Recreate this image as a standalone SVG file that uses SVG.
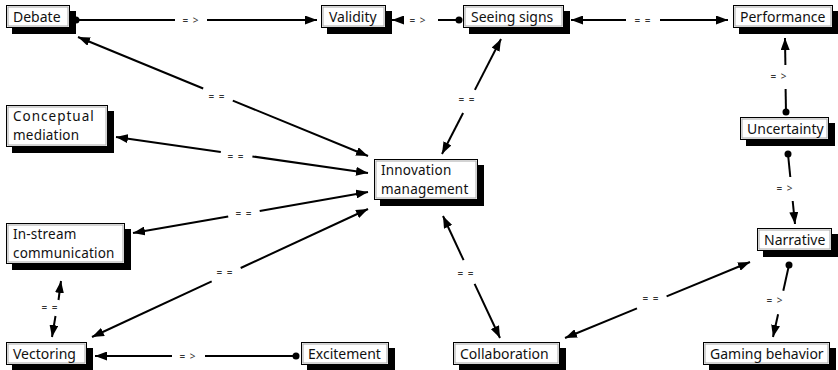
<svg xmlns="http://www.w3.org/2000/svg" width="838" height="370" viewBox="0 0 838 370">
<style>
.sh{fill:#000}
.bx{fill:#fff;stroke:#000;stroke-width:1}
.in{fill:none;stroke:#a8a8a8;stroke-width:1}
.t{font-family:"Noto Sans","DejaVu Sans",sans-serif;font-size:14px;fill:#111}
.t2{font-family:"Noto Sans","DejaVu Sans",sans-serif;font-size:13.5px;letter-spacing:0.2px;fill:#111}
.e{fill:none;stroke:#000;stroke-width:2}
.l{font-family:"Noto Sans","DejaVu Sans",sans-serif;font-size:10px;fill:#333;text-anchor:middle;letter-spacing:1px}
</style>
<defs>
<marker id="ar" viewBox="0 0 12 9" refX="12" refY="4.5" markerWidth="12" markerHeight="9" markerUnits="userSpaceOnUse" orient="auto-start-reverse"><path d="M0,0 L12,4.5 L0,9 Z" fill="#000"/></marker>
<marker id="dt" viewBox="0 0 8 8" refX="4" refY="4" markerWidth="8" markerHeight="8" markerUnits="userSpaceOnUse"><circle cx="4" cy="4" r="3.5" fill="#000"/></marker>
</defs>
<rect width="838" height="370" fill="#fff"/>
<g id="connectors">
<!-- Debate -> Validity -->
<path class="e" d="M76,20 L175,20" marker-start="url(#dt)"/>
<path class="e" d="M207,20 L317,20" marker-end="url(#ar)"/>
<text class="l" x="191" y="24">= &gt;</text>
<!-- Seeing signs -> Validity -->
<path class="e" d="M459,20 L438,20" marker-start="url(#dt)"/>
<path class="e" d="M404,20 L392,20" marker-end="url(#ar)"/>
<text class="l" x="418" y="24">= &gt;</text>
<!-- Seeing signs <-> Performance -->
<path class="e" d="M571,20 L626,20" marker-start="url(#ar)"/>
<path class="e" d="M660,20 L728,20" marker-end="url(#ar)"/>
<text class="l" x="643" y="24">= =</text>
<!-- Debate <-> Innovation -->
<path class="e" d="M78,37 L203.2,88.5" marker-start="url(#ar)"/>
<path class="e" d="M232.8,100.6 L368,156" marker-end="url(#ar)"/>
<text class="l" x="217" y="100">= =</text>
<!-- Conceptual <-> Innovation -->
<path class="e" d="M116,137 L220.8,151.9" marker-start="url(#ar)"/>
<path class="e" d="M252.4,156.4 L368,173" marker-end="url(#ar)"/>
<text class="l" x="236" y="160">= =</text>
<!-- In-stream <-> Innovation -->
<path class="e" d="M133,233 L228.2,216.4" marker-start="url(#ar)"/>
<path class="e" d="M259.7,210.9 L368,192" marker-end="url(#ar)"/>
<text class="l" x="244" y="217">= =</text>
<!-- Vectoring <-> Innovation -->
<path class="e" d="M92,337 L211.7,281.4" marker-start="url(#ar)"/>
<path class="e" d="M240.7,268 L368,209" marker-end="url(#ar)"/>
<text class="l" x="225" y="276">= =</text>
<!-- Seeing signs <-> Innovation -->
<path class="e" d="M501,39 L474.9,89.9" marker-start="url(#ar)"/>
<path class="e" d="M463.1,113 L442,154" marker-end="url(#ar)"/>
<text class="l" x="467" y="103">= =</text>
<!-- Innovation <-> Collaboration -->
<path class="e" d="M443,216 L463.6,260.2" marker-start="url(#ar)"/>
<path class="e" d="M474.6,283.8 L500,338" marker-end="url(#ar)"/>
<text class="l" x="466" y="277">= =</text>
<!-- Uncertainty -> Performance -->
<path class="e" d="M786,112 L785.6,89" marker-start="url(#dt)"/>
<path class="e" d="M785.4,65 L785,38" marker-end="url(#ar)"/>
<text class="l" x="779" y="80">= &gt;</text>
<!-- Uncertainty -> Narrative -->
<path class="e" d="M788,154 L790.3,177" marker-start="url(#dt)"/>
<path class="e" d="M792.7,201 L795,224" marker-end="url(#ar)"/>
<text class="l" x="785" y="192">= &gt;</text>
<!-- Narrative -> Gaming behavior -->
<path class="e" d="M789,265 L783.3,290.8" marker-start="url(#dt)"/>
<path class="e" d="M778.1,314.2 L773,337" marker-end="url(#ar)"/>
<text class="l" x="775" y="304">= &gt;</text>
<!-- Narrative <-> Collaboration -->
<path class="e" d="M750,262 L666.6,296.3" marker-start="url(#ar)"/>
<path class="e" d="M637,308.4 L565,338" marker-end="url(#ar)"/>
<text class="l" x="651" y="302">= =</text>
<!-- In-stream <-> Vectoring -->
<path class="e" d="M61,281 L58.5,300" marker-start="url(#ar)"/>
<path class="e" d="M55.5,316 L52,337" marker-end="url(#ar)"/>
<text class="l" x="50" y="311">= =</text>
<!-- Excitement -> Vectoring -->
<path class="e" d="M296,356 L205,356" marker-start="url(#dt)"/>
<path class="e" d="M172,356 L95,356" marker-end="url(#ar)"/>
<text class="l" x="188" y="360">= &gt;</text>
</g>
<g id="n-debate"><rect class="sh" x="12" y="11" width="64" height="23"/><rect class="bx" x="6.5" y="5.5" width="63" height="22"/><rect class="in" x="8" y="7" width="60" height="19"/><text class="t" x="13" y="21.5">Debate</text></g>
<g id="n-validity"><rect class="sh" x="327" y="11" width="65" height="23"/><rect class="bx" x="321.5" y="5.5" width="64" height="22"/><rect class="in" x="323" y="7" width="61" height="19"/><text class="t" x="329" y="21.5">Validity</text></g>
<g id="n-seeing"><rect class="sh" x="469" y="11" width="101" height="23"/><rect class="bx" x="463.5" y="5.5" width="100" height="22"/><rect class="in" x="465" y="7" width="97" height="19"/><text class="t" x="471" y="21.5">Seeing signs</text></g>
<g id="n-performance"><rect class="sh" x="739" y="11" width="99" height="23"/><rect class="bx" x="733.5" y="5.5" width="99" height="22"/><rect class="in" x="735" y="7" width="96" height="19"/><text class="t" x="740" y="21.5">Performance</text></g>
<g id="n-conceptual"><rect class="sh" x="12" y="111" width="102" height="42"/><rect class="bx" x="6.5" y="105.5" width="101" height="41"/><rect class="in" x="8" y="107" width="98" height="38"/><text class="t2" x="13" y="121" style="letter-spacing:1px">Conceptual</text><text class="t2" x="13" y="139.5">mediation</text></g>
<g id="n-innovation"><rect class="sh" x="380" y="165" width="104" height="41"/><rect class="bx" x="374.5" y="159.5" width="103" height="40"/><rect class="in" x="376" y="161" width="100" height="37"/><text class="t2" x="381" y="175">Innovation</text><text class="t2" x="381" y="193.5">management</text></g>
<g id="n-uncertainty"><rect class="sh" x="746" y="123" width="89" height="23"/><rect class="bx" x="740.5" y="117.5" width="88" height="22"/><rect class="in" x="742" y="119" width="85" height="19"/><text class="t" x="747" y="133.5">Uncertainty</text></g>
<g id="n-instream"><rect class="sh" x="12" y="229" width="119" height="41"/><rect class="bx" x="6.5" y="223.5" width="118" height="40"/><rect class="in" x="8" y="225" width="115" height="37"/><text class="t2" x="13" y="239">In-stream</text><text class="t2" x="13" y="257.5">communication</text></g>
<g id="n-narrative"><rect class="sh" x="763" y="234" width="75" height="23"/><rect class="bx" x="757.5" y="228.5" width="74" height="22"/><rect class="in" x="759" y="230" width="71" height="19"/><text class="t" x="764" y="244.5">Narrative</text></g>
<g id="n-vectoring"><rect class="sh" x="12" y="348" width="81" height="22"/><rect class="bx" x="6.5" y="342.5" width="80" height="22"/><rect class="in" x="8" y="344" width="77" height="19"/><text class="t" x="13" y="358.5">Vectoring</text></g>
<g id="n-excitement"><rect class="sh" x="307" y="348" width="88" height="22"/><rect class="bx" x="301.5" y="342.5" width="87" height="22"/><rect class="in" x="303" y="344" width="84" height="19"/><text class="t" x="308" y="358.5">Excitement</text></g>
<g id="n-collaboration"><rect class="sh" x="459" y="348" width="107" height="22"/><rect class="bx" x="453.5" y="342.5" width="106" height="22"/><rect class="in" x="455" y="344" width="103" height="19"/><text class="t" x="460" y="358.5">Collaboration</text></g>
<g id="n-gaming"><rect class="sh" x="709" y="348" width="127" height="22"/><rect class="bx" x="703.5" y="342.5" width="126" height="22"/><rect class="in" x="705" y="344" width="123" height="19"/><text class="t" x="710" y="358.5">Gaming behavior</text></g>
</svg>
